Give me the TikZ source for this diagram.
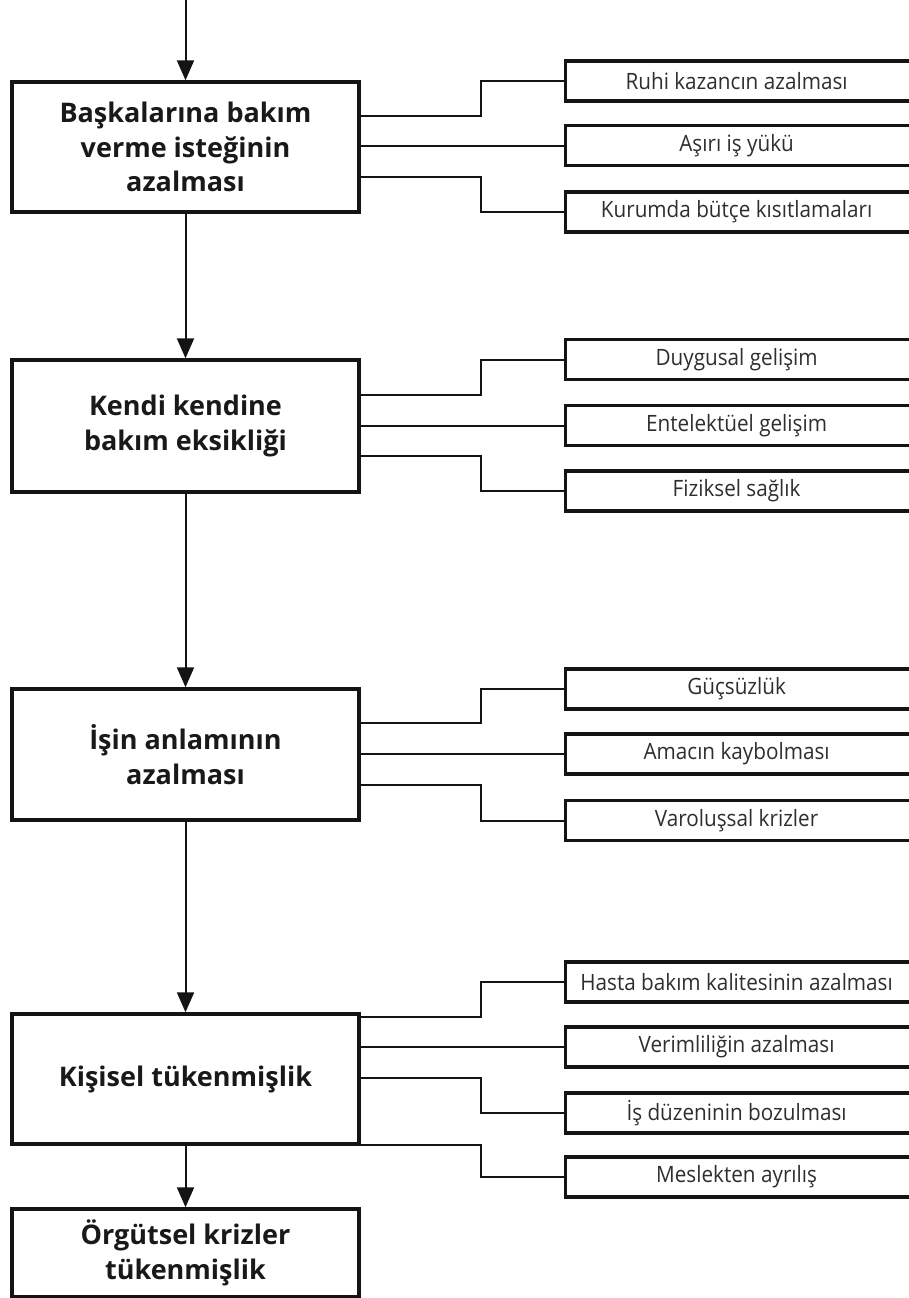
\documentclass[tikz,border=0pt]{standalone}
\usepackage{fontspec}
\setmainfont{Open Sans}
\newfontfamily\rfont[FakeStretch=0.92]{Open Sans}
\usetikzlibrary{arrows.meta}
\newcommand\rtext[1]{\makebox[361pt][l]{\makebox[342pt]{#1}}}
\tikzset{
  mainbox/.style={draw=black!92, line width=3.4pt, minimum width=347pt, inner sep=0pt, align=center,
    font=\fontsize{27}{34.5}\selectfont\bfseries, text=black!90},
  rbox/.style={draw=black!92, line width=3.2pt, minimum height=40pt, inner xsep=0pt, inner ysep=0pt,
    anchor=west, font=\rfont\fontsize{22.5}{26}\selectfont, text=black!82},
  conn/.style={draw=black!92, line width=2pt},
  arr/.style={draw=black!92, line width=2pt, -{Triangle[length=20pt,width=17pt]}}
}
\begin{document}
\begin{tikzpicture}[x=1pt,y=-1pt]
\useasboundingbox (0,0) rectangle (909,1298);
\clip (0,0) rectangle (909,1298);
% main boxes
\node[mainbox, minimum height=130pt] (b1) at (185.5,147) {Başkalarına bakım\\verme isteğinin\\azalması};
\node[mainbox, minimum height=132pt] (b2) at (185.5,426) {Kendi kendine\\bakım eksikliği};
\node[mainbox, minimum height=131pt] (b3) at (185.5,754.5) {İşin anlamının\\azalması};
\node[mainbox, minimum height=130pt] (b4) at (185.5,1079) {Kişisel tükenmişlik};
\node[mainbox, minimum height=88pt] (b5) at (185.5,1253) {Örgütsel krizler\\tükenmişlik};
% right boxes
\node[rbox] (r11) at (564,81) {\rtext{Ruhi kazancın azalması}};
\node[rbox] (r12) at (564,145.5) {\rtext{Aşırı iş yükü}};
\node[rbox] (r13) at (564,212) {\rtext{Kurumda bütçe kısıtlamaları}};
\node[rbox] (r21) at (564,359.5) {\rtext{Duygusal gelişim}};
\node[rbox] (r22) at (564,425.5) {\rtext{Entelektüel gelişim}};
\node[rbox] (r23) at (564,491) {\rtext{Fiziksel sağlık}};
\node[rbox] (r31) at (564,689) {\rtext{Güçsüzlük}};
\node[rbox] (r32) at (564,754) {\rtext{Amacın kaybolması}};
\node[rbox] (r33) at (564,820.5) {\rtext{Varoluşsal krizler}};
\node[rbox] (r41) at (564,982) {\rtext{Hasta bakım kalitesinin azalması}};
\node[rbox] (r42) at (564,1047) {\rtext{Verimliliğin azalması}};
\node[rbox] (r43) at (564,1113) {\rtext{İş düzeninin bozulması}};
\node[rbox] (r44) at (564,1177) {\rtext{Meslekten ayrılış}};
% arrows
\coordinate (top) at (185.5,0);
\draw[arr] (top) -- (b1.north);
\draw[arr] (b1.south) -- (b2.north);
\draw[arr] (b2.south) -- (b3.north);
\draw[arr] (b3.south) -- (b4.north);
\draw[arr] (b4.south) -- (b5.north);
% jog points
\coordinate (j11) at (481,116);
\coordinate (j13) at (481,177);
\coordinate (j21) at (481,395);
\coordinate (j23) at (481,456);
\coordinate (j31) at (481,723);
\coordinate (j33) at (481,785);
\coordinate (j41) at (481,1017);
\coordinate (j43) at (481,1078);
\coordinate (j44) at (481,1145);
% connectors
\draw[conn] (j11 -| b1.east) -- (j11) |- (r11.west);
\draw[conn] (b1.east |- r12.west) -- (r12.west);
\draw[conn] (j13 -| b1.east) -- (j13) |- (r13.west);
\draw[conn] (j21 -| b2.east) -- (j21) |- (r21.west);
\draw[conn] (b2.east |- r22.west) -- (r22.west);
\draw[conn] (j23 -| b2.east) -- (j23) |- (r23.west);
\draw[conn] (j31 -| b3.east) -- (j31) |- (r31.west);
\draw[conn] (b3.east |- r32.west) -- (r32.west);
\draw[conn] (j33 -| b3.east) -- (j33) |- (r33.west);
\draw[conn] (j41 -| b4.east) -- (j41) |- (r41.west);
\draw[conn] (b4.east |- r42.west) -- (r42.west);
\draw[conn] (j43 -| b4.east) -- (j43) |- (r43.west);
\draw[conn] (j44 -| b4.east) -- (j44) |- (r44.west);
\end{tikzpicture}
\end{document}
